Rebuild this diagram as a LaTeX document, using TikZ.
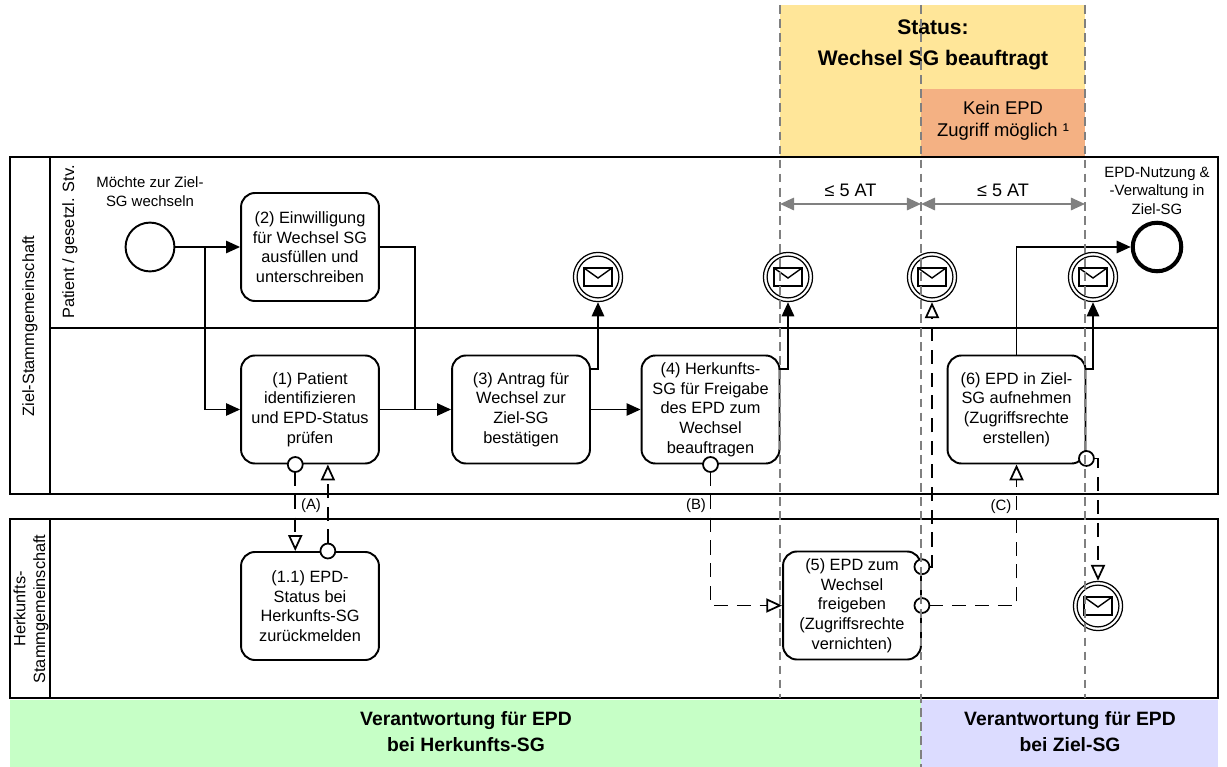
\documentclass[tikz,border=0pt]{standalone}
\usepackage{fontspec}
\setmainfont{Liberation Sans}
\usetikzlibrary{arrows.meta, positioning}
\definecolor{statusgelb}{HTML}{FFE699}
\definecolor{zugriffrot}{HTML}{F4B183}
\definecolor{herkgruen}{HTML}{C6FFC6}
\definecolor{zielblau}{HTML}{DCDCFF}

\begin{document}
\begin{tikzpicture}[x=0.02cm, y=-0.02cm,
        t/.style={draw, rounded corners=8pt, line width=1.1pt, minimum width=78.5pt, minimum height=61.5pt, align=center, inner sep=1pt, font=\fontsize{9.3}{11.2}\selectfont},
        ev/.style={circle, draw, line width=1.1pt, minimum size=27.8pt, inner sep=0pt},
        evend/.style={circle, draw, line width=2.3pt, minimum size=27.6pt, inner sep=0pt},
        msg/.style={circle, draw, line width=0.7pt, minimum size=28pt, inner sep=0pt},
        lbl/.style={align=center, font=\fontsize{8.5}{10.6}\selectfont},
        lane/.style={rotate=90, align=center, font=\fontsize{9.3}{11.2}\selectfont},
        band/.style={align=center, font=\bfseries\fontsize{11}{14.8}\selectfont},
        e/.style={-{Triangle[length=8pt, width=7pt]}, line width=1.1pt},
        ln/.style={line width=1.1pt},
        mf/.style={{Circle[fill=white, length=9.5pt, width=9.5pt]}-{Triangle[open, length=9pt, width=8pt]}, line width=1pt, dash pattern=on 8pt off 5pt, shorten <=-4.75pt},
        pool/.style={line width=1.4pt},
        guide/.style={gray, line width=1.1pt, dash pattern=on 5pt off 3pt},
        dim/.style={{Triangle[length=8pt, width=7pt]}-{Triangle[length=8pt, width=7pt]}, gray, line width=1.3pt}]
        \useasboundingbox (0,0) rectangle (1227,767);

        % Status und Verantwortung
        \fill[statusgelb] (780,5) rectangle (1085,157);
        \fill[zugriffrot] (921,89) rectangle (1085,157);
        \fill[herkgruen] (10,700) rectangle (921,767);
        \fill[zielblau] (921,700) rectangle (1218,767);
        \node[font=\bfseries\fontsize{12}{17.6}\selectfont, align=center] (status) at (933,45) {Status:\\Wechsel SG beauftragt};
        \node[font=\fontsize{10.5}{12.5}\selectfont, align=center] (kein) at (1003,121) {Kein EPD\\Zugriff möglich ¹};
        \node[band] (vh) at (466,732) {Verantwortung für EPD\\bei Herkunfts-SG};
        \node[band] (vz) at (1070,732) {Verantwortung für EPD\\bei Ziel-SG};

        % Pools
        \draw[pool] (10,157) rectangle (1218,494);
        \draw[pool] (50,157) -- (50,494);
        \draw[pool] (50,328) -- (1218,328);
        \draw[pool] (10,519) rectangle (1218,698);
        \draw[pool] (50,519) -- (50,698);
        \node[lane] (pz) at (30,326) {Ziel-Stammgemeinschaft};
        \node[lane] (pp) at (70,242) {Patient / gesetzl. Stv.};
        \node[lane] (ph) at (31,609) {Herkunfts-\\Stammgemeinschaft};

        % Aufgaben
        \node[t] (t2) at (310,247) {(2) Einwilligung\\für Wechsel SG\\ausfüllen und\\unterschreiben};
        \node[t] (t1) at (310,409.5) {(1) Patient\\identifizieren\\und EPD-Status\\prüfen};
        \node[t] (t3) at (521,409.5) {(3) Antrag für\\Wechsel zur\\Ziel-SG\\bestätigen};
        \node[t] (t4) at (710.5,409.5) {(4) Herkunfts-\\SG für Freigabe\\des EPD zum\\Wechsel\\beauftragen};
        \node[t] (t6) at (1016.5,409.5) {(6) EPD in Ziel-\\SG aufnehmen\\(Zugriffsrechte\\erstellen)};
        \node[t] (t11) at (310,606) {(1.1) EPD-\\Status bei\\Herkunfts-SG\\zurückmelden};
        \node[t] (t5) at (852,605.5) {(5) EPD zum\\Wechsel\\freigeben\\(Zugriffsrechte\\vernichten)};

        % Ereignisse
        \node[ev] (start) at (150,247) {};
        \node[lbl, above=5pt of start] (startlbl) {Möchte zur Ziel-\\SG wechseln};
        \node[evend] (end) at (1157,247) {};
        \node[lbl, above=0pt of end] (endlbl) {EPD-Nutzung \&\\-Verwaltung in\\Ziel-SG};

        \foreach \n/\x/\y in {m1/598/277, m2/788/277, m3/932/277, m4/1093/277, m5/1098/606}
        {
        \node[msg] (\n) at (\x,\y) {};
        \draw[line width=0.7pt] (\n) circle (11.9pt);
        \draw[line width=0.8pt] (\n.center) ++(-14,-9) rectangle ++(28,18);
        \draw[line width=0.8pt] (\n.center) ++(-14,-9) -- ++(14,10) -- ++(14,-10);
        }

        % Sequenzfluss
        \coordinate (j0) at (205,247);
        \coordinate (j1) at (415,409.5);
        \draw[e] (start) -- (t2);
        \draw[e] (j0) |- (t1);
        \draw[ln] (t2) -| (j1);
        \draw[e] (t1) -- (t3);
        \draw[e] (t3) -- (t4);
        \draw[e] (t3.30) -| (m1);
        \draw[e] (t4.30) -| (m2);
        \draw[e] (t6) |- (end);
        \draw[e] (t6.30) -| (m4);

        % Nachrichtenfluss
        \draw[mf] (t1.-105) -- (t11.105);
        \draw[mf] (t11.72) -- (t1.-72);
        \draw[mf] (t4.south) |- (t5.west);
        \draw[mf] (t5.east) -| (t6.south);
        \draw[mf] (t5.29) -| (m3);
        \draw[mf] (t6.-35) -| (m5);
        \node[lbl] (la) at (311,506) {(A)};
        \node[lbl] (lb) at (696,506) {(B)};
        \node[lbl] (lc) at (1001,507) {(C)};

        % Fristen
        \foreach \x/\b in {780/698, 921/767, 1085/698}
        \draw[guide] (\x,5) -- (\x,\b);
        \coordinate (d0) at (780,204);
        \coordinate (d1) at (921,204);
        \coordinate (d2) at (1085,204);
        \draw[dim] (d0) -- node[above, text=black, font=\fontsize{10.3}{12}\selectfont] (f1) {≤ 5 AT} (d1);
        \draw[dim] (d1) -- node[above, text=black, font=\fontsize{10.3}{12}\selectfont] (f2) {≤ 5 AT} (d2);
      \end{tikzpicture}
\end{document}
